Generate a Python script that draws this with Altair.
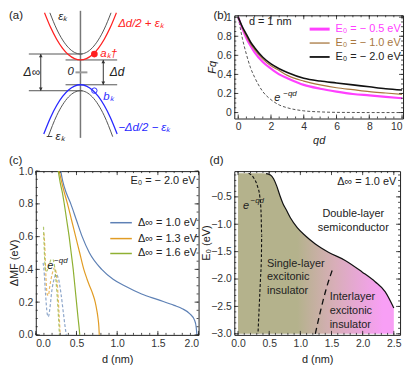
import altair as alt
import pandas as pd

FONT = "Liberation Sans"
LBL = "#333333"

# ---------------- panel (a): schematic band picture ----------------
k_gu = [-0.77, -0.6, -0.45, -0.3, -0.15, 0, 0.15, 0.3, 0.45, 0.6, 0.77]
E_gu = [1.50, 1.0925, 0.817, 0.62, 0.502, 0.4625, 0.502, 0.62, 0.817, 1.0925, 1.50]
k_rd = [-0.905, -0.75, -0.6, -0.45, -0.3, -0.15, 0, 0.15, 0.3, 0.45, 0.6, 0.75, 0.905]
E_rd = [1.5, 1.128, 0.8345, 0.606, 0.443, 0.345, 0.3125, 0.345, 0.443, 0.606, 0.8345, 1.128, 1.5]
k_bl = [-0.924, -0.75, -0.6, -0.45, -0.3, -0.15, 0, 0.15, 0.3, 0.45, 0.6, 0.75, 0.924]
E_bl = [-1.55, -1.128, -0.8345, -0.606, -0.443, -0.345, -0.3125, -0.345, -0.443, -0.606, -0.8345, -1.128, -1.55]
k_gd = [-0.813, -0.6, -0.45, -0.3, -0.15, 0, 0.15, 0.3, 0.45, 0.6, 0.813]
E_gd = [-1.62, -1.0925, -0.817, -0.62, -0.502, -0.4625, -0.502, -0.62, -0.817, -1.0925, -1.62]

# ---------------- panel (b) ----------------
qd = [0, 0.25, 0.5, 0.75, 1, 1.5, 2, 2.5, 3, 4, 5, 6, 7, 8, 9, 10]
F_m05 = [1, 0.88, 0.78, 0.70, 0.63, 0.53, 0.46, 0.40, 0.36, 0.29, 0.25, 0.22, 0.195, 0.18, 0.165, 0.15]
F_m10 = [1, 0.89, 0.80, 0.72, 0.66, 0.56, 0.49, 0.44, 0.39, 0.33, 0.29, 0.26, 0.24, 0.22, 0.205, 0.19]
F_m20 = [1, 0.90, 0.82, 0.74, 0.68, 0.58, 0.51, 0.46, 0.42, 0.36, 0.33, 0.31, 0.29, 0.27, 0.25, 0.236]
F_exp = [1, 0.78, 0.61, 0.47, 0.37, 0.22, 0.135, 0.08, 0.05, 0.018, 0.007, 0.002, 0.001, 0, 0, 0]
b_labels = ["E₀ = − 0.5 eV", "E₀ = − 1.0 eV", "E₀ = − 2.0 eV"]
b_colors = ["#ff40ff", "#a8773f", "#111111"]

# ---------------- panel (c) ----------------
d_blue = [0.3, 0.33, 0.38, 0.43, 0.5, 0.57, 0.66, 0.81, 0.95, 1.09, 1.3, 1.5, 1.7, 1.8, 1.89, 1.95, 1.97, 1.98]
D_blue = [1.02, 0.94, 0.86, 0.8, 0.7, 0.6, 0.5, 0.4, 0.34, 0.3, 0.25, 0.215, 0.18, 0.16, 0.13, 0.09, 0.05, 0.0]
d_orng = [0.28, 0.31, 0.35, 0.39, 0.44, 0.49, 0.54, 0.59, 0.63, 0.66, 0.7, 0.73, 0.75, 0.765, 0.775, 0.78]
D_orng = [1.02, 0.95, 0.87, 0.8, 0.7, 0.6, 0.5, 0.4, 0.34, 0.3, 0.25, 0.2, 0.15, 0.1, 0.05, 0.0]
d_gren = [0.27, 0.3, 0.33, 0.35, 0.38, 0.41, 0.435, 0.46, 0.48, 0.5, 0.52, 0.535, 0.54]
D_gren = [1.02, 0.93, 0.86, 0.8, 0.7, 0.6, 0.5, 0.4, 0.3, 0.2, 0.1, 0.03, 0.0]
d_blue_e = [0.09, 0.1, 0.12, 0.14, 0.155, 0.17, 0.2, 0.23, 0.25, 0.28, 0.31, 0.34, 0.36, 0.375]
D_blue_e = [0.44, 0.40, 0.25, 0.13, 0.11, 0.15, 0.28, 0.35, 0.37, 0.34, 0.25, 0.13, 0.05, 0.0]
d_orng_e = [0.1, 0.11, 0.125, 0.14, 0.155, 0.17, 0.2, 0.23, 0.25, 0.27, 0.285, 0.3]
D_orng_e = [0.62, 0.55, 0.35, 0.25, 0.24, 0.29, 0.37, 0.41, 0.38, 0.27, 0.14, 0.0]
d_gren_e = [0.095, 0.1, 0.11, 0.12, 0.135, 0.16, 0.19, 0.21, 0.23, 0.25, 0.27, 0.285, 0.29]
D_gren_e = [0.66, 0.58, 0.45, 0.39, 0.39, 0.42, 0.46, 0.46, 0.42, 0.32, 0.18, 0.05, 0.0]
c_labels = ["Δ∞ = 1.0 eV", "Δ∞ = 1.3 eV", "Δ∞ = 1.6 eV"]
c_colors = ["#5E81B5", "#E19C24", "#8FB032"]

# ---------------- panel (d) ----------------
d_fill = [0, 0.3, 0.45, 0.52, 0.57, 0.62, 0.67, 0.72, 0.78, 0.84, 0.95, 1.08, 1.24, 1.45, 1.72, 1.99, 2.2, 2.36, 2.5]
E_fill = [-0.07, -0.07, -0.075, -0.1, -0.17, -0.3, -0.47, -0.62, -0.75, -0.88, -1.06, -1.21, -1.36, -1.51, -1.66, -1.87, -2.05, -2.23, -2.53]
d_dash1 = [0.17, 0.25, 0.31, 0.35, 0.37, 0.38, 0.375, 0.36, 0.34, 0.32]
E_dash1 = [-0.07, -0.15, -0.3, -0.5, -0.8, -1.2, -1.6, -2.0, -2.5, -3.0]
d_dash2 = [1.24, 1.32, 1.41, 1.53]
E_dash2 = [-3.0, -2.6, -2.2, -1.78]


def scale(dom):
    return alt.Scale(domain=dom, nice=False, zero=False)


def ax(values, fmt, title, **kw):
    return alt.Axis(values=values, format=fmt, ticks=False, domain=False, grid=False,
                    labelFont=FONT, labelFontSize=10.5, labelColor=LBL,
                    title=title, titleFont=FONT, titleFontSize=11, titleFontWeight="normal",
                    titleColor="#222", **kw)


def line(xs, ys, X, Y, color, width, dash=None, clip=False, opacity=1.0, interp="monotone"):
    df = pd.DataFrame({"x": xs, "y": ys, "i": list(range(len(xs)))})
    kw = dict(color=color, strokeWidth=width, clip=clip, opacity=opacity, interpolate=interp)
    if dash:
        kw["strokeDash"] = dash
    return alt.Chart(df).mark_line(**kw).encode(x=X, y=Y, order="i:Q")


def txt(rows, X, Y, size=11, align="left", style="normal"):
    df = pd.DataFrame(rows, columns=["x", "y", "t", "c"])
    return alt.Chart(df).mark_text(font=FONT, fontSize=size, align=align, baseline="middle",
                                   fontStyle=style).encode(
        x=X, y=Y, text="t:N", color=alt.Color("c:N", scale=None))


def plabel(t, px, py):
    return alt.Chart(pd.DataFrame({"t": [t]})).mark_text(
        font=FONT, fontSize=11.5, align="left", baseline="top", color="#222").encode(
        x=alt.value(px), y=alt.value(py), text="t:N")


def frame_ticks(xmaj, xmin, ymaj, ymin, W, H, X, Y):
    layers = []
    for vals, L in ((xmaj, 4), (xmin, 2)):
        base = alt.Chart(pd.DataFrame({"x": vals})).mark_rule(color="#222", strokeWidth=0.8).encode(x=X)
        layers.append(base.encode(y=alt.value(H), y2=alt.value(H - L)))
        layers.append(base.encode(y=alt.value(0), y2=alt.value(L)))
    for vals, L in ((ymaj, 4), (ymin, 2)):
        base = alt.Chart(pd.DataFrame({"y": vals})).mark_rule(color="#222", strokeWidth=0.8).encode(y=Y)
        layers.append(base.encode(x=alt.value(0), x2=alt.value(L)))
        layers.append(base.encode(x=alt.value(W), x2=alt.value(W - L)))
    return layers


def frange(a, b, s):
    n = int(round((b - a) / s))
    return [round(a + i * s, 6) for i in range(n + 1)]


# ================= panel (a) =================
Wa, Ha = 160, 104
xa = scale([-1.125, 2.875])
ya = scale([-1.1625, 1.4375])
XA = alt.X("x:Q", scale=xa, axis=None)
YA = alt.Y("y:Q", scale=ya, axis=None)

rules_a = pd.DataFrame({
    "x":  [0, -1.3, -1.3, -0.375, -0.375, -1.0, 0.575, -0.125],
    "x2": [0, 0.05, 0.05, 0.925, 0.925, -1.0, 0.575, 0.175],
    "y":  [1.55, 0.4625, -0.4625, 0.3125, -0.3125, 0.4625, 0.3125, 0],
    "y2": [-1.65, 0.4625, -0.4625, 0.3125, -0.3125, -0.4625, -0.3125, 0],
    "c":  ["#777777", "#555555", "#555555", "#555555", "#555555", "#333333", "#333333", "#9a9a9a"],
    "w":  [1.5, 1, 1, 1, 1, 1, 1, 2],
})
rules_a_ch = alt.Chart(rules_a).mark_rule().encode(
    x=XA, x2="x2:Q", y=YA, y2="y2:Q",
    color=alt.Color("c:N", scale=None), strokeWidth=alt.StrokeWidth("w:Q", scale=None))

heads = pd.DataFrame({"x": [-1.0, -1.0, 0.575, 0.575],
                      "y": [0.42, -0.42, 0.27, -0.27],
                      "s": ["triangle-up", "triangle-down", "triangle-up", "triangle-down"]})
heads_ch = alt.Chart(heads).mark_point(filled=True, size=14, color="#333", opacity=1).encode(
    x=XA, y=YA, shape=alt.Shape("s:N", scale=None))

dots = alt.Chart(pd.DataFrame({"x": [0.35], "y": [0.46]})).mark_point(
    filled=True, size=45, color="#ff2020", opacity=1).encode(x=XA, y=YA)
circ = alt.Chart(pd.DataFrame({"x": [0.35], "y": [-0.46]})).mark_point(
    filled=False, size=30, color="#3030ff", strokeWidth=1, opacity=1).encode(x=XA, y=YA)

texts_a_it = txt([
    [-0.56, 1.40, "εₖ", "#222"],
    [0.5, 0.47, "aₖ†", "#ff2020"],
    [0.575, -0.62, "bₖ", "#3030ff"],
    [-0.875, -1.64, "− εₖ", "#222"],
    [-0.325, 0.0, "0", "#222"],
], XA, YA, size=11.5, style="italic")
texts_a_c = txt([
    [-1.225, 0.0, "Δ∞", "#222"],
    [0.925, 0.0, "Δd", "#222"],
], XA, YA, size=12, align="center", style="italic")
texts_a_l = txt([
    [0.95, 1.21, "Δd/2 + εₖ", "#ff2020"],
    [0.95, -1.39, "−Δd/2 − εₖ", "#2828ff"],
], XA, YA, size=11.5, style="italic")

panel_a = alt.layer(
    rules_a_ch,
    line(k_gu, E_gu, XA, YA, "#555555", 1),
    line(k_gd, E_gd, XA, YA, "#555555", 1),
    line(k_rd, E_rd, XA, YA, "#ff2020", 1.3),
    line(k_bl, E_bl, XA, YA, "#2828ff", 1.3),
    heads_ch, dots, circ, texts_a_it, texts_a_c, texts_a_l,
    plabel("(a)", -27, -5),
).properties(width=Wa, height=Ha, view=alt.ViewBackground(stroke="transparent"))

# ================= panel (b) =================
Wb, Hb = 170, 104
xb = scale([-0.24, 10.06])
yb = scale([-0.0625, 1.02])
XB = alt.X("x:Q", scale=xb, axis=ax([0, 2, 4, 6, 8, 10], "d", "qd", labelPadding=3,
                                      titleFontStyle="italic", titlePadding=3))
YB = alt.Y("y:Q", scale=yb, axis=ax([0, 0.2, 0.4, 0.6, 0.8, 1.0], ".1~f", "Fq", labelPadding=3,
                                      titleFontStyle="italic", titleX=-17))

leg_b = pd.DataFrame({"x": [4.36] * 3, "x2": [5.58] * 3, "y": [0.875, 0.729, 0.583],
                      "c": b_colors, "w": [3, 1.3, 1.8]})
leg_b_ch = alt.Chart(leg_b).mark_rule().encode(
    x=XB, x2="x2:Q", y=YB, color=alt.Color("c:N", scale=None),
    strokeWidth=alt.StrokeWidth("w:Q", scale=None))
leg_b_txt = txt([[5.94, 0.875, b_labels[0], b_colors[0]],
                 [5.94, 0.729, b_labels[1], b_colors[1]],
                 [5.94, 0.583, b_labels[2], "#222"]], XB, YB, size=11)

panel_b = alt.layer(
    line(qd, F_exp, XB, YB, "#555555", 1, dash=[3, 2]),
    line(qd, F_m05, XB, YB, "#ff40ff", 2.2),
    line(qd, F_m10, XB, YB, "#a8773f", 1.2),
    line(qd, F_m20, XB, YB, "#111111", 1.6),
    leg_b_ch, leg_b_txt,
    txt([[0.65, 0.948, "d = 1 nm", "#222"]], XB, YB, size=11),
    txt([[2.2, 0.15, "e", "#222"]], XB, YB, size=11, style="italic"),
    txt([[2.75, 0.19, "−qd", "#222"]], XB, YB, size=8, style="italic"),
    *frame_ticks([0, 2, 4, 6, 8, 10], frange(0, 10, 0.5), [0, 0.2, 0.4, 0.6, 0.8, 1.0],
                 frange(0, 1, 0.05), Wb, Hb, XB, YB),
    plabel("(b)", -21, -5),
).properties(width=Wb, height=Hb, view=alt.ViewBackground(stroke="#222", strokeWidth=1))

# ================= panel (c) =================
Wc, Hc = 164, 165
xc = scale([0, 2])
yc = scale([0, 1])
XC = alt.X("x:Q", scale=xc, axis=ax([0, 0.5, 1.0, 1.5, 2.0], ".1f", "d (nm)", labelPadding=4,
                                      titlePadding=4))
YC = alt.Y("y:Q", scale=yc, axis=ax([0, 0.2, 0.4, 0.6, 0.8, 1.0], ".1f", "ΔMF (eV)", labelPadding=3,
                                      titleX=-16, titleY=92))

leg_c = pd.DataFrame({"x": [0.915] * 3, "x2": [1.18] * 3, "y": [0.685, 0.588, 0.497], "c": c_colors})
leg_c_ch = alt.Chart(leg_c).mark_rule(strokeWidth=1.5).encode(
    x=XC, x2="x2:Q", y=YC, color=alt.Color("c:N", scale=None))
leg_c_txt = txt([[1.256, 0.685, c_labels[0], "#222"],
                 [1.256, 0.588, c_labels[1], "#222"],
                 [1.256, 0.497, c_labels[2], "#222"]], XC, YC, size=11)

panel_c = alt.layer(
    line(d_blue_e, D_blue_e, XC, YC, c_colors[0], 1.2, dash=[3, 2], clip=True, opacity=0.7),
    line(d_orng_e, D_orng_e, XC, YC, c_colors[1], 1.2, dash=[3, 2], clip=True, opacity=0.7),
    line(d_gren_e, D_gren_e, XC, YC, c_colors[2], 1.2, dash=[3, 2], clip=True, opacity=0.7),
    line(d_blue, D_blue, XC, YC, c_colors[0], 1.2, clip=True),
    line(d_orng, D_orng, XC, YC, c_colors[1], 1.2, clip=True),
    line(d_gren, D_gren, XC, YC, c_colors[2], 1.2, clip=True),
    leg_c_ch, leg_c_txt,
    txt([[1.963, 0.94, "E₀ = − 2.0 eV", "#222"]], XC, YC, size=11, align="right"),
    txt([[0.14, 0.42, "e", "#222"]], XC, YC, size=11, style="italic"),
    txt([[0.225, 0.45, "−qd", "#222"]], XC, YC, size=8, style="italic"),
    *frame_ticks([0, 0.5, 1.0, 1.5, 2.0], frange(0, 2, 0.1), [0, 0.2, 0.4, 0.6, 0.8, 1.0],
                 frange(0, 1, 0.05), Wc, Hc, XC, YC),
    plabel("(c)", -27, -16),
).properties(width=Wc, height=Hc, view=alt.ViewBackground(stroke="#222", strokeWidth=1))

# ================= panel (d) =================
Wd, Hd = 167, 165
xd = scale([-0.06, 2.6])
yd = scale([-3.02, -0.03])
XD = alt.X("x:Q", scale=xd, axis=ax([0, 0.5, 1.0, 1.5, 2.0, 2.5], ".1f", "d (nm)", labelPadding=4,
                                      titlePadding=4))
YD = alt.Y("y:Q", scale=yd, axis=ax([-0.5, -1.0, -1.5, -2.0, -2.5, -3.0], ".1f", "E₀ (eV)",
                                      labelPadding=3, titleX=-23, titleY=72))

fill_df = pd.DataFrame({"x": d_fill, "y": E_fill, "y2": [-3.0] * len(d_fill)})
grad = alt.Gradient(gradient="linear",
                    stops=[alt.GradientStop(color="#b4b28c", offset=0),
                           alt.GradientStop(color="#b4b28c", offset=0.38),
                           alt.GradientStop(color="#d8aeb8", offset=0.62),
                           alt.GradientStop(color="#f89ff5", offset=0.93),
                           alt.GradientStop(color="#f89ff5", offset=1)],
                    x1=0, x2=1, y1=0, y2=0)
fill_ch = alt.Chart(fill_df).mark_area(color=grad, interpolate="monotone").encode(
    x=XD, y=YD, y2="y2:Q")

texts_d = txt([
    [1.85, -0.81, "Double-layer", "#222"],
    [1.85, -1.06, "semiconductor", "#222"],
], XD, YD, size=11, align="center")
texts_d2 = txt([
    [0.465, -1.72, "Single-layer", "#222"],
    [0.465, -1.97, "excitonic", "#222"],
    [0.465, -2.22, "insulator", "#222"],
    [1.47, -2.33, "Interlayer", "#222"],
    [1.47, -2.58, "excitonic", "#222"],
    [1.47, -2.84, "insulator", "#222"],
], XD, YD, size=11)

panel_d = alt.layer(
    fill_ch,
    line(d_fill[2:], E_fill[2:], XD, YD, "#111111", 1.2),
    line(d_dash1, E_dash1, XD, YD, "#111111", 1.1, dash=[3, 2]),
    line(d_dash2, E_dash2, XD, YD, "#111111", 1.3, dash=[6, 4]),
    texts_d, texts_d2,
    txt([[2.54, -0.229, "Δ∞ = 1.0 eV", "#222"]], XD, YD, size=11, align="right"),
    txt([[0.08, -0.66, "e", "#222"]], XD, YD, size=11, style="italic"),
    txt([[0.2, -0.58, "−qd", "#222"]], XD, YD, size=8, style="italic"),
    *frame_ticks([0, 0.5, 1.0, 1.5, 2.0, 2.5], frange(0, 2.5, 0.1),
                 [-0.5, -1.0, -1.5, -2.0, -2.5, -3.0], frange(-3.0, -0.1, 0.1), Wd, Hd, XD, YD),
    plabel("(d)", -25, -16),
).properties(width=Wd, height=Hd, view=alt.ViewBackground(stroke="#222", strokeWidth=1))

chart = alt.concat(
    panel_a, panel_b, panel_c, panel_d,
    columns=2, bounds="flush",
    spacing={"row": 53, "column": 36},
    align={"row": "each", "column": "none"},
).properties(padding=0, background="white").configure_view(stroke="#222", strokeWidth=1)

chart.save("out.html", embed_options={"renderer": "svg", "actions": False})
